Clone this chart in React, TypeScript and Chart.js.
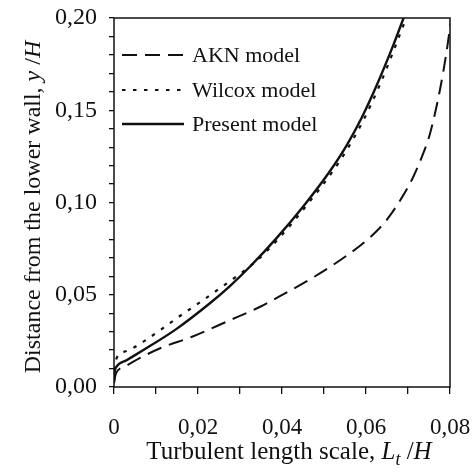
import React, { useEffect, useRef } from "react";
import { Chart, registerables } from "chart.js";
Chart.register(...registerables);

const seriesLabels = ["AKN model", "Wilcox model", "Present model"];

const aknX = [0, 0.0005, 0.0026, 0.006, 0.011, 0.0189, 0.0268, 0.0348, 0.0395, 0.0475, 0.0554, 0.061, 0.0649, 0.0685, 0.0713, 0.0736, 0.0752, 0.0776, 0.0792, 0.0803];
const aknY = [0.003, 0.0075, 0.011, 0.0155, 0.021, 0.0275, 0.0354, 0.0435, 0.0492, 0.0595, 0.0712, 0.0812, 0.0905, 0.1025, 0.1141, 0.1265, 0.137, 0.161, 0.182, 0.2];

const wilcoxX = [0, 0.0002, 0.0006, 0.003, 0.007, 0.0149, 0.0252, 0.034, 0.0393, 0.0457, 0.0518, 0.0561, 0.0597, 0.0632, 0.0671, 0.0696];
const wilcoxY = [0.003, 0.009, 0.0155, 0.0195, 0.0246, 0.0372, 0.0535, 0.0685, 0.0807, 0.098, 0.116, 0.131, 0.1461, 0.1633, 0.1853, 0.2003];

const presentX = [0, 0.0001, 0.0006, 0.003, 0.007, 0.0149, 0.0229, 0.0276, 0.0324, 0.0387, 0.0451, 0.0511, 0.0554, 0.059, 0.0625, 0.0665, 0.069];
const presentY = [0.002, 0.007, 0.011, 0.0145, 0.02, 0.0315, 0.0455, 0.0547, 0.0653, 0.0807, 0.098, 0.116, 0.131, 0.1461, 0.1633, 0.1853, 0.2003];

const xMin = 0, xMax = 0.08, xMinorStep = 0.01;
const yMin = 0, yMax = 0.2, yMinorStep = 0.01;
const xLabelEvery = 2; // label every 0.02
const yLabelEvery = 5; // label every 0.05

const xTitleParts = [
  { t: "Turbulent length scale, ", i: false, sub: false },
  { t: "L", i: true, sub: false },
  { t: "t", i: true, sub: true },
  { t: " /", i: false, sub: false },
  { t: "H", i: true, sub: false },
];
const yTitleParts = [
  { t: "Distance from the lower wall, ", i: false, sub: false },
  { t: "y", i: true, sub: false },
  { t: " /", i: false, sub: false },
  { t: "H", i: true, sub: false },
];

const INK = "#111";
const FONT = "'Liberation Serif', 'Times New Roman', serif";
const dashStyles: number[][] = [[15, 8], [3.5, 7.5], []];
const lineWidths = [2, 2.2, 2.4];

function zip(xs: number[], ys: number[]) {
  return xs.map((x, i) => ({ x, y: ys[i] }));
}

function fmt(v: number) {
  if (Math.abs(v) < 1e-9) return "0";
  return v.toFixed(2).replace(".", ",");
}

function drawRich(ctx: CanvasRenderingContext2D, parts: any[], size: number, cx: number, cy: number, rotate: boolean) {
  ctx.save();
  const fontOf = (p: any) => `${p.i ? "italic " : ""}${p.sub ? Math.round(size * 0.7) : size}px ${FONT}`;
  let total = 0;
  const widths = parts.map((p) => {
    ctx.font = fontOf(p);
    const w = ctx.measureText(p.t).width;
    total += w;
    return w;
  });
  ctx.translate(cx, cy);
  if (rotate) ctx.rotate(-Math.PI / 2);
  ctx.fillStyle = INK;
  ctx.textBaseline = "alphabetic";
  ctx.textAlign = "left";
  let x = -total / 2;
  parts.forEach((p, k) => {
    ctx.font = fontOf(p);
    ctx.fillText(p.t, x, p.sub ? size * 0.25 : 0);
    x += widths[k];
  });
  ctx.restore();
}

const decorPlugin = {
  id: "decor",
  afterDraw(chart: any) {
    const ctx = chart.ctx as CanvasRenderingContext2D;
    const a = chart.chartArea;
    ctx.save();
    ctx.strokeStyle = INK;
    ctx.lineWidth = 1.5;
    ctx.strokeRect(a.left, a.top, a.right - a.left, a.bottom - a.top);
    ctx.restore();

    drawRich(ctx, xTitleParts, 25, 289, 459, false);
    drawRich(ctx, yTitleParts, 24, 40, 207, true);

    // legend inside plot
    const rows = [55, 90, 124];
    chart.data.datasets.forEach((ds: any, k: number) => {
      const y = rows[k];
      ctx.save();
      ctx.strokeStyle = ds.borderColor;
      ctx.lineWidth = ds.borderWidth;
      ctx.setLineDash(ds.borderDash || []);
      ctx.beginPath();
      ctx.moveTo(122, y);
      ctx.lineTo(184, y);
      ctx.stroke();
      ctx.setLineDash([]);
      ctx.fillStyle = INK;
      ctx.font = `22px ${FONT}`;
      ctx.textBaseline = "middle";
      ctx.textAlign = "left";
      ctx.fillText(ds.label, 192, y + 1);
      ctx.restore();
    });
  },
};

export default function App() {
  const ref = useRef<HTMLCanvasElement | null>(null);
  useEffect(() => {
    if (!ref.current) return;
    const xs = [aknX, wilcoxX, presentX];
    const ys = [aknY, wilcoxY, presentY];
    const chart = new Chart(ref.current, {
      type: "scatter",
      data: {
        datasets: seriesLabels.map((label, k) => ({
          label,
          data: zip(xs[k], ys[k]),
          showLine: true,
          borderColor: INK,
          backgroundColor: INK,
          borderWidth: lineWidths[k],
          borderDash: dashStyles[k],
          pointRadius: 0,
          cubicInterpolationMode: "monotone",
          fill: false,
        })),
      },
      options: {
        responsive: false,
        maintainAspectRatio: false,
        animation: false,
        layout: { padding: { left: 0, right: 24, top: 18, bottom: 0 } },
        plugins: { legend: { display: false }, tooltip: { enabled: false } },
        scales: {
          x: {
            type: "linear",
            min: xMin,
            max: xMax,
            afterFit: (s: any) => { s.height = 88; s.paddingLeft = 0; s.paddingRight = 0; },
            border: { display: false },
            grid: { drawOnChartArea: false, drawTicks: true, tickLength: 7, color: INK, lineWidth: 1.3 },
            ticks: {
              stepSize: xMinorStep,
              autoSkip: false,
              maxRotation: 0,
              padding: 20,
              color: INK,
              font: { family: FONT, size: 23 },
              callback: (v: any) => {
                const i = Math.round(Number(v) / xMinorStep);
                return i % xLabelEvery === 0 ? fmt(Number(v)) : "";
              },
            },
          },
          y: {
            type: "linear",
            min: yMin,
            max: yMax,
            afterFit: (s: any) => { s.width = 114; s.paddingTop = 0; s.paddingBottom = 0; },
            border: { display: false },
            grid: { drawOnChartArea: false, drawTicks: true, tickLength: 5, color: INK, lineWidth: 1.3 },
            ticks: {
              stepSize: yMinorStep,
              autoSkip: false,
              padding: 12,
              color: INK,
              font: { family: FONT, size: 24 },
              callback: (v: any) => {
                const i = Math.round(Number(v) / yMinorStep);
                return i % yLabelEvery === 0 ? Number(v).toFixed(2).replace(".", ",") : "";
              },
            },
          },
        },
      },
      plugins: [decorPlugin],
    } as any);
    return () => chart.destroy();
  }, []);
  return (
    <div style={{ position: "fixed", left: 0, top: 0, width: 474, height: 475, background: "#fff" }}>
      <canvas ref={ref} width={474} height={475} style={{ width: 474, height: 475, display: "block" }} />
    </div>
  );
}
